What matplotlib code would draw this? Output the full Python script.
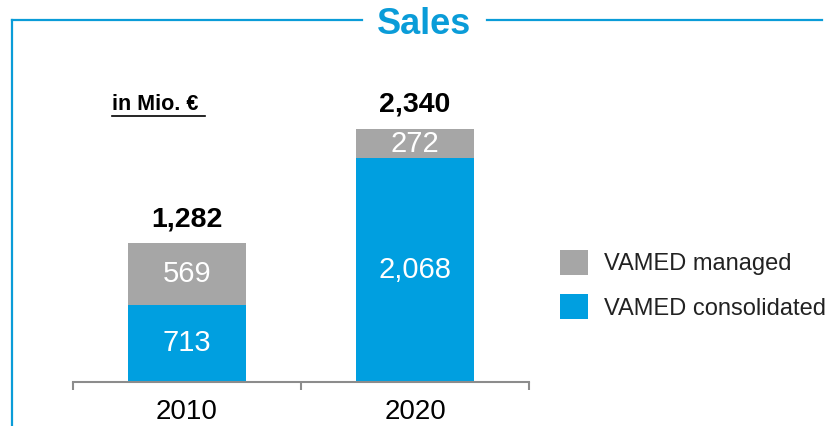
import matplotlib
matplotlib.use("Agg")
import matplotlib.pyplot as plt
from matplotlib.lines import Line2D
from matplotlib import font_manager

years = ["2010", "2020"]
consolidated = [713, 2068]
managed = [569, 272]
totals = [1282, 2340]
series_names = ["VAMED managed", "VAMED consolidated"]
title = "Sales"
unit_label = "in Mio. €"

BLUE = "#009fe0"
GRAY = "#a6a6a6"
TITLE_BLUE = "#0a9cd8"

names = {f.name for f in font_manager.fontManager.ttflist}
narrow = "Liberation Sans Narrow" if "Liberation Sans Narrow" in names else "Liberation Sans"
plt.rcParams['font.family'] = ['Liberation Sans', 'DejaVu Sans']

W, H = 827, 426
fig = plt.figure(figsize=(W / 100, H / 100), dpi=100)

def fx(px):
    return px / W

def fy(py):
    return 1 - py / H

ax = fig.add_axes([fx(73), fy(382), fx(529) - fx(73), fy(129) - fy(382)])
x = list(range(len(years)))
width = 0.515
b1 = ax.bar(x, consolidated, width, color=BLUE, label=series_names[1])
b2 = ax.bar(x, managed, width, bottom=consolidated, color=GRAY, label=series_names[0])
ax.set_xlim(-0.5, 1.5)
ax.set_ylim(0, max(totals))

for i in x:
    ax.text(i, consolidated[i] / 2, f"{consolidated[i]:,}", ha="center", va="center",
            color="white", fontsize=21)
    ax.text(i, consolidated[i] + managed[i] / 2, f"{managed[i]:,}", ha="center", va="center",
            color="white", fontsize=21)
    ax.annotate(f"{totals[i]:,}", (i, totals[i]), xytext=(0, 8), textcoords="offset points",
                ha="center", va="bottom", fontsize=20.5, fontweight="bold", family=narrow,
                color="black", annotation_clip=False)

for s in ["top", "right", "left"]:
    ax.spines[s].set_visible(False)
ax.spines["bottom"].set_color("#8c8c8c")
ax.spines["bottom"].set_linewidth(1.5)
ax.set_yticks([])
ax.set_xticks(x)
ax.set_xticklabels(years, fontsize=20)
ax.tick_params(axis="x", which="major", length=0, pad=12)
ax.set_xticks([-0.5, 0.5, 1.5], minor=True)
ax.tick_params(axis="x", which="minor", length=6, width=1.5, color="#8c8c8c", direction="out")

# frame lines
lc = TITLE_BLUE
fig.add_artist(Line2D([fx(12), fx(12)], [fy(20), fy(426)], color=lc, lw=1.6))
fig.add_artist(Line2D([fx(12), fx(362)], [fy(20), fy(20)], color=lc, lw=1.6))
fig.add_artist(Line2D([fx(487), fx(822)], [fy(20), fy(20)], color=lc, lw=1.6))
fig.text(fx(424), fy(24), title, ha="center", va="center", fontsize=26, fontweight="bold",
         color=TITLE_BLUE, family=narrow)
fig.text(fx(112), fy(104), unit_label, ha="left", va="center", fontsize=15.5, fontweight="bold",
         color="black", family=narrow)
fig.add_artist(Line2D([fx(112), fx(205)], [fy(116), fy(116)], color="black", lw=1.2))

leg = fig.legend(handles=[b2, b1], labels=[series_names[0], series_names[1]],
                 loc="upper left", bbox_to_anchor=(fx(560), fy(250)), frameon=False,
                 fontsize=17, handlelength=1.2, handleheight=1.25, handletextpad=0.65,
                 labelspacing=0.8, borderpad=0, borderaxespad=0)
for t in leg.get_texts():
    t.set_color("#222222")

fig.savefig("out.png", dpi=100)
